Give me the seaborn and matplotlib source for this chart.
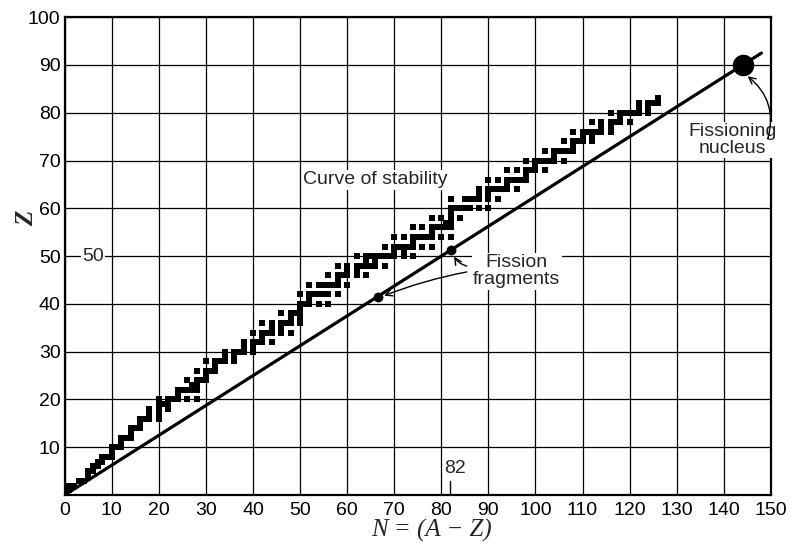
import matplotlib
matplotlib.use("Agg")
import matplotlib.pyplot as plt
import pandas as pd
import seaborn as sns

# stable N values for each Z = 1 .. 83
z_values = list(range(1, 84))
stable_n = [
    [0, 1], [1, 2], [3, 4], [5], [5, 6], [6, 7], [7, 8], [8, 9, 10], [10], [10, 11, 12],
    [12], [12, 13, 14], [14], [14, 15, 16], [16], [16, 17, 18, 20], [18, 20], [18, 20, 22], [20, 21, 22], [20, 22, 23, 24, 26, 28],
    [24], [24, 25, 26, 27, 28], [27, 28], [26, 28, 29, 30], [30], [28, 30, 31, 32], [32], [30, 32, 33, 34, 36], [34, 36], [34, 36, 37, 38, 40],
    [38, 40], [38, 40, 41, 42, 44], [42], [40, 42, 43, 44, 46, 48], [44, 46], [42, 44, 46, 47, 48, 50], [48, 50], [46, 48, 49, 50], [50], [50, 51, 52, 54, 56],
    [52], [50, 52, 53, 54, 55, 56, 58], [], [52, 54, 55, 56, 57, 58, 60], [58], [56, 58, 59, 60, 62, 64], [60, 62], [58, 60, 62, 63, 64, 65, 66, 68], [64, 66], [62, 64, 65, 66, 67, 68, 69, 70, 72, 74],
    [70, 72], [68, 70, 71, 72, 73, 74, 76, 78], [74], [70, 72, 74, 75, 76, 77, 78, 80, 82], [78], [74, 76, 78, 79, 80, 81, 82], [81, 82], [78, 80, 82, 84], [82], [82, 83, 84, 85, 86, 88, 90],
    [], [82, 85, 86, 87, 88, 90, 92], [88, 90], [88, 90, 91, 92, 93, 94, 96], [94], [90, 92, 94, 95, 96, 97, 98], [98], [94, 96, 98, 99, 100, 102], [100], [98, 100, 101, 102, 103, 104, 106],
    [104], [102, 104, 105, 106, 107, 108], [108], [106, 108, 109, 110, 112], [110, 112], [108, 110, 111, 112, 113, 114, 116], [114, 116], [112, 114, 116, 117, 118, 120], [118], [116, 118, 119, 120, 121, 122, 124],
    [122, 124], [122, 124, 125, 126], [126],
]

# straight line of constant Z/A through the fissioning nucleus
line_n = [0, 148]
line_z = [0, 92.5]

fissioning_n = [144]
fissioning_z = [90]

fragment_n = [66.5, 82]
fragment_z = [41.4, 51.2]

rows = [(n, z) for z, ns in zip(z_values, stable_n) for n in ns]
nuclides = pd.DataFrame(rows, columns=["N", "Z"])

sns.set_style("white")
plt.rcParams["font.family"] = ["Liberation Sans", "DejaVu Sans"]

fig = plt.figure(figsize=(7.89, 5.55), dpi=100)
ax = fig.add_axes([0.082, 0.108, 0.895, 0.861])

sns.lineplot(x=line_n, y=line_z, color="black", linewidth=2.3, ax=ax, zorder=3)
sns.scatterplot(data=nuclides, x="N", y="Z", marker="s", s=16, color="black",
                linewidth=0, ax=ax, zorder=4)
sns.scatterplot(x=fissioning_n, y=fissioning_z, s=240, color="black", linewidth=0, ax=ax, zorder=5)
sns.scatterplot(x=fragment_n, y=fragment_z, s=50, color="black", linewidth=0, ax=ax, zorder=5)

ax.set_xlim(0, 150)
ax.set_ylim(0, 100)
ax.set_xticks(range(0, 151, 10))
ax.set_yticks(range(10, 101, 10))
ax.grid(True, color="black", linewidth=0.9)
ax.set_axisbelow(True)
ax.tick_params(length=0, labelsize=14, colors="black")
ax.tick_params(axis="x", pad=5)
ax.tick_params(axis="y", pad=3)
for sp in ax.spines.values():
    sp.set_color("black")
    sp.set_linewidth(1.6)

ax.set_xlabel("N = (A \u2212 Z)", family="Liberation Serif", style="italic", fontsize=18)
ax.set_ylabel("Z", family="Liberation Serif", style="italic", fontweight="bold", fontsize=18)
ax.xaxis.set_label_coords(0.52, -0.05)
ax.yaxis.set_label_coords(-0.038, 0.58)

box = dict(facecolor="white", edgecolor="none", pad=1)
ax.text(66, 66, "Curve of stability", fontsize=14, ha="center", va="center", bbox=box, zorder=6)
ax.text(96, 46.8, "Fission\nfragments", fontsize=14, ha="center", va="center",
        linespacing=1.0, bbox=box, zorder=6)
ax.text(141.8, 74.3, "Fissioning\nnucleus", fontsize=14, ha="center", va="center",
        linespacing=1.0, bbox=box, zorder=6)
ax.text(6, 50, "50", fontsize=14, ha="center", va="center", bbox=box, zorder=6)
ax.text(83, 5.6, "82", fontsize=14, ha="center", va="center", zorder=6)
ax.plot([81.8, 81.8], [0, 3], color="black", linewidth=1)

arrow = dict(arrowstyle="->", color="black", lw=1.0, mutation_scale=12)
ax.annotate("", xy=(82.4, 50.4), xytext=(86, 47.8),
            arrowprops=dict(arrow, connectionstyle="arc3,rad=-0.25"), zorder=6)
ax.annotate("", xy=(67.3, 41.5), xytext=(86, 46.8),
            arrowprops=dict(arrow, connectionstyle="arc3,rad=0.05"), zorder=6)
ax.annotate("", xy=(144.6, 88.0), xytext=(149.2, 74.0),
            arrowprops=dict(arrow, connectionstyle="arc3,rad=0.35"), zorder=6)

fig.savefig("out.png", dpi=100)
